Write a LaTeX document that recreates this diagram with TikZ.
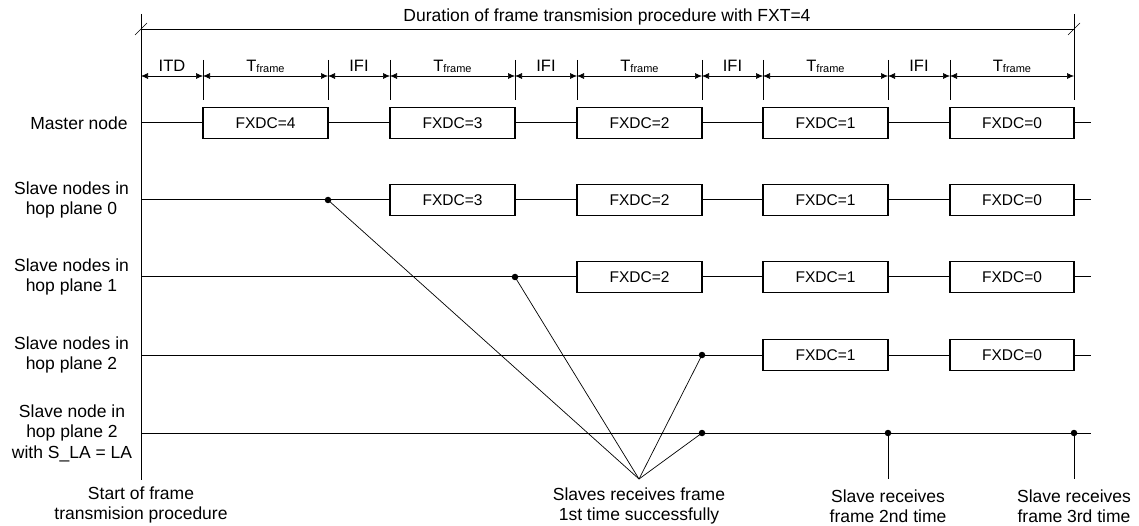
\documentclass[tikz,border=0pt]{standalone}
\usepackage{fontspec}
\setmainfont{Liberation Sans}
\usetikzlibrary{arrows.meta}

\begin{document}
\begin{tikzpicture}[x=1pt,y=-1pt,
  lbl/.style={align=center, font=\fontsize{17.5}{20.5}\selectfont, inner sep=0pt},
  framebox/.style={draw, fill=white, line width=1.2pt, minimum height=31pt,
    inner sep=0pt, font=\fontsize{15.5}{18}\selectfont},
  timeline/.style={line width=1pt},
  dim/.style={line width=0.6pt, {Latex[length=7pt,width=6pt]}-{Latex[length=7pt,width=6pt]}},
  tick/.style={line width=0.6pt},
  dotm/.style={circle, fill, inner sep=0pt, minimum size=6.5pt},
  ray/.style={line width=0.7pt},
  dimlbl/.style={anchor=base, inner sep=0pt, font=\fontsize{16.5}{18}\selectfont}
]
\useasboundingbox (0,0) rectangle (1139,526);

% outer limits of the procedure
\coordinate (vt) at (141,14);
\coordinate (vb) at (141,480);
\coordinate (rt) at (1074,14);
\coordinate (rb) at (1074,100);
\draw[tick] (vt) -- (vb);
\draw[tick] (rt) -- (rb);

% total duration
\coordinate (dl) at (141,29);
\coordinate (dr) at (1074,29);
\draw[tick] (dl) -- (dr);
\draw[tick] (135,35) -- (147,23);
\draw[tick] (1068,35) -- (1080,23);
\node[lbl] (dur) at (607,17) {Duration of frame transmision procedure with FXT=4};

% interval boundaries
\foreach \n/\x in {1/203,2/328,3/390,4/515,5/577,6/702,7/763,8/888,9/950} {
  \coordinate (ta\n) at (\x,60);
  \coordinate (tb\n) at (\x,100);
  \draw[tick] (ta\n) -- (tb\n);
}
% interval arrows and names
\newcommand{\tfr}{T\raisebox{-1.5pt}{\fontsize{11}{11}\selectfont frame}}
\foreach \a/\b/\t in {141/203/ITD, 203/328/\tfr, 328/390/IFI, 390/515/\tfr, 515/577/IFI,
    577/702/\tfr, 702/763/IFI, 763/888/\tfr, 888/950/IFI, 950/1074/\tfr} {
  \coordinate (pa) at (\a,76);
  \coordinate (pb) at (\b,76);
  \draw[dim] (pa) -- (pb);
  \node[dimlbl] at ({(\a+\b)/2},71.5) {\t};
}

% frame boxes per row
\foreach \r/\y/\first in {m/123/1, a/200/2, b/277/3, c/355/4} {
  \foreach \k/\l/\rr in {1/203/328, 2/390/515, 3/577/702, 4/763/888, 5/950/1074} {
    \ifnum\k<\first\relax\else
      \pgfmathtruncatemacro\v{5-\k}
      \node[framebox, minimum width={(\rr-\l)*1pt}] (\r\k) at ({(\l+\rr)/2},\y) {FXDC=\v};
    \fi
  }
}

% row starts and ends
\foreach \r/\y in {m/123, a/200, b/277, c/355, d/433} {
  \coordinate (s\r) at (141,\y);
  \coordinate (e\r) at (1091,\y);
}

% reception points
\node[dotm] (da) at (328,200) {};
\node[dotm] (db) at (515,277) {};
\node[dotm] (dc) at (702,355) {};
\node[dotm] (dd1) at (702,433) {};
\node[dotm] (dd2) at (888,433) {};
\node[dotm] (dd3) at (1074,433) {};

% time lines
\draw[timeline] (sm) -- (m1.west) (m1.east) -- (m2.west) (m2.east) -- (m3.west)
  (m3.east) -- (m4.west) (m4.east) -- (m5.west) (m5.east) -- (em);
\draw[timeline] (sa) -- (da) -- (a2.west) (a2.east) -- (a3.west)
  (a3.east) -- (a4.west) (a4.east) -- (a5.west) (a5.east) -- (ea);
\draw[timeline] (sb) -- (db) -- (b3.west) (b3.east) -- (b4.west)
  (b4.east) -- (b5.west) (b5.east) -- (eb);
\draw[timeline] (sc) -- (dc) -- (c4.west) (c4.east) -- (c5.west) (c5.east) -- (ec);
\draw[timeline] (sd) -- (dd1) -- (dd2) -- (dd3) -- (ed);

% first successful reception
\coordinate (conv) at (639,479);
\draw[ray] (conv) -- (da.center);
\draw[ray] (conv) -- (db.center);
\draw[ray] (conv) -- (dc.center);
\draw[ray] (conv) -- (dd1.center);

% repeated receptions
\coordinate (r2) at (888,479);
\coordinate (r3) at (1074,479);
\draw[ray] (dd2.center) -- (r2);
\draw[ray] (dd3.center) -- (r3);

% row names
\node[lbl] (lm) at (79,123) {Master node};
\node[lbl] (la) at (71.5,200) {Slave nodes in\\hop plane 0};
\node[lbl] (lb) at (71.5,277) {Slave nodes in\\hop plane 1};
\node[lbl] (lc) at (71.5,355) {Slave nodes in\\hop plane 2};
\node[lbl] (ld) at (72,433) {Slave node in\\hop plane 2\\with S\_LA = LA};

% event names
\node[lbl] (t0) at (141,505) {Start of frame\\transmision procedure};
\node[lbl] (t1) at (639,506) {Slaves receives frame\\1st time successfully};
\node[lbl] (t2) at (888,506) {Slave receives\\frame 2nd time};
\node[lbl] (t3) at (1074,506) {Slave receives\\frame 3rd time};
\end{tikzpicture}
\end{document}
